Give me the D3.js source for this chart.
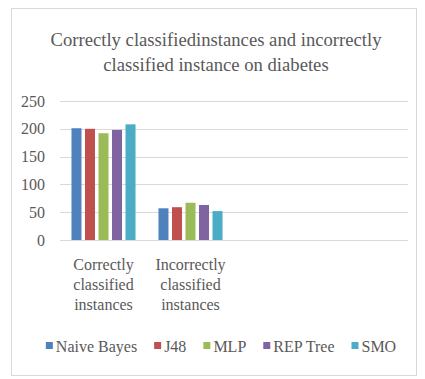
<!DOCTYPE html>
<html>
<head>
<meta charset="utf-8">
<script src="https://cdn.jsdelivr.net/npm/d3@7"></script>
<style>
  body { margin: 0; background: #fff; }
</style>
</head>
<body>
<div id="chart"></div>
<script>
var width = 425;
var height = 379;
var fontName = "Liberation Serif";

// data
var categories = ["Correctly classified instances", "Incorrectly classified instances", "", " "];
var categoryLines = [["Correctly", "classified", "instances"], ["Incorrectly", "classified", "instances"], [], []];
var seriesNames = ["Naive Bayes", "J48", "MLP", "REP Tree", "SMO"];
var naiveBayes = [201, 57];
var j48 = [200, 59];
var mlp = [192, 67];
var repTree = [198, 63];
var smo = [208, 52];
var yTicks = [0, 50, 100, 150, 200, 250];
var titleLines = ["Correctly classifiedinstances and incorrectly", "classified instance on diabetes"];

var seriesValues = [naiveBayes, j48, mlp, repTree, smo];
const colorScale = d3.scaleOrdinal()
    .domain(seriesNames)
    .range(["#4F81BD", "#C0504D", "#9BBB59", "#8064A2", "#4BACC6"]);

var margin = { top: 101, left: 60, right: 17, bottom: 139 };
var plotW = width - margin.left - margin.right;
var plotH = height - margin.top - margin.bottom;

var svg = d3.select("#chart").append("svg")
    .attr("width", width)
    .attr("height", height);

// chart border
svg.append("rect")
    .attr("x", 11.5).attr("y", 8.5)
    .attr("width", 405).attr("height", 367)
    .attr("fill", "none")
    .attr("stroke", "#d9d9d9");

// title
svg.append("g").selectAll("text")
    .data(titleLines)
    .enter().append("text")
    .attr("x", 216)
    .attr("y", (d, i) => 46 + i * 25)
    .attr("text-anchor", "middle")
    .attr("fill", "#595959")
    .attr("font-family", fontName)
    .attr("font-size", 18.67)
    .text(d => d);

var g = svg.append("g")
    .attr("transform", `translate(${margin.left},${margin.top})`);

var y = d3.scaleLinear().domain([0, 250]).range([plotH, 0]);

var x0 = d3.scaleBand()
    .domain(categories)
    .range([0, plotW])
    .paddingInner(0.264)
    .paddingOuter(0.132);

var x1 = d3.scaleBand()
    .domain(seriesNames)
    .range([0, x0.bandwidth()])
    .paddingInner(0.26);

// gridlines
g.append("g").selectAll("line")
    .data(yTicks)
    .enter().append("line")
    .attr("x1", 0).attr("x2", plotW)
    .attr("y1", d => Math.round(y(d)) + 0.5)
    .attr("y2", d => Math.round(y(d)) + 0.5)
    .attr("stroke", "#d9d9d9")
    .attr("stroke-width", 1);

// y axis labels
var yAxis = d3.axisLeft(y).tickValues(yTicks).tickSize(0).tickPadding(15);
var yAxisG = g.append("g").call(yAxis)
    .attr("font-family", fontName)
    .attr("font-size", 16);
yAxisG.select(".domain").remove();
yAxisG.selectAll("text")
    .attr("font-family", fontName)
    .attr("fill", "#595959");

// bars
var groups = g.append("g").selectAll("g")
    .data(categories.slice(0, 2))
    .enter().append("g")
    .attr("transform", d => `translate(${x0(d)},0)`);

groups.selectAll("rect")
    .data((d, ci) => seriesNames.map((s, si) => ({ s: s, v: seriesValues[si][ci] })))
    .enter().append("rect")
    .attr("x", d => x1(d.s))
    .attr("width", x1.bandwidth())
    .attr("y", d => y(d.v))
    .attr("height", d => plotH - y(d.v))
    .attr("fill", d => colorScale(d.s));

// category labels
var catG = g.append("g").selectAll("text")
    .data(categories)
    .enter().append("text")
    .attr("x", d => x0(d) + x0.bandwidth() / 2)
    .attr("y", plotH + 30)
    .attr("text-anchor", "middle")
    .attr("fill", "#595959")
    .attr("font-family", fontName)
    .attr("font-size", 16);
catG.each(function(d, i) {
    d3.select(this).selectAll("tspan")
        .data(categoryLines[i])
        .enter().append("tspan")
        .attr("x", x0(d) + x0.bandwidth() / 2)
        .attr("dy", (t, j) => j === 0 ? 0 : 20)
        .text(t => t);
});

// legend
var legend = svg.append("g");
var items = legend.selectAll("g")
    .data(seriesNames)
    .enter().append("g");
items.append("rect")
    .attr("width", 7).attr("height", 7)
    .attr("y", -10)
    .attr("fill", d => colorScale(d));
items.append("text")
    .attr("x", 10)
    .attr("fill", "#595959")
    .attr("font-family", fontName)
    .attr("font-size", 16)
    .text(d => d);

var lx = 0;
items.each(function() {
    var w = 10 + d3.select(this).select("text").node().getComputedTextLength();
    d3.select(this).attr("transform", `translate(${lx},0)`);
    lx += w + 17;
});
lx -= 17;
legend.attr("transform", `translate(${221 - lx / 2},352)`);
</script>
</body>
</html>
